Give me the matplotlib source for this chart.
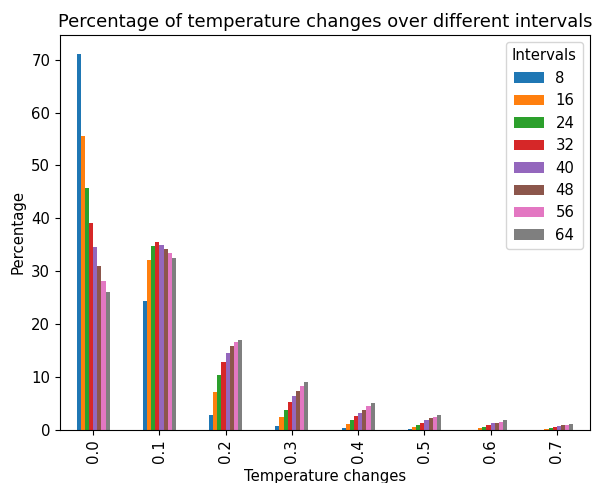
import numpy as np
import pandas as pd
import matplotlib
matplotlib.use('Agg')
import matplotlib.pyplot as plt

changes = ['0.0', '0.1', '0.2', '0.3', '0.4', '0.5', '0.6', '0.7']
intervals = [8, 16, 24, 32, 40, 48, 56, 64]

p8 = [71.1, 24.3, 2.8, 0.8, 0.4, 0.25, 0.05, 0.02]
p16 = [55.6, 32.1, 7.2, 2.45, 1.2, 0.6, 0.4, 0.2]
p24 = [45.7, 34.8, 10.4, 3.8, 1.8, 1.0, 0.6, 0.4]
p32 = [39.2, 35.5, 12.8, 5.3, 2.6, 1.4, 1.0, 0.6]
p40 = [34.5, 35.0, 14.6, 6.5, 3.3, 1.8, 1.25, 0.8]
p48 = [31.0, 34.2, 15.8, 7.3, 3.8, 2.2, 1.4, 1.0]
p56 = [28.2, 33.4, 16.6, 8.3, 4.5, 2.4, 1.6, 1.0]
p64 = [26.1, 32.5, 17.1, 9.1, 5.1, 2.9, 1.9, 1.2]

df = pd.DataFrame({8: p8, 16: p16, 24: p24, 32: p32,
                   40: p40, 48: p48, 56: p56, 64: p64}, index=changes)
df.columns.name = 'Intervals'

plt.rcParams['font.size'] = 10.7
fig = plt.figure(figsize=(5.92, 4.83), dpi=100)
ax = fig.add_axes([60/592, 1-430/483, 530/592, 395/483])
df.plot.bar(ax=ax)
ax.set_title('Percentage of temperature changes over different intervals')
ax.set_xlabel('Temperature changes')
ax.set_ylabel('Percentage')
ax.legend(title='Intervals', loc='upper right')
fig.savefig('out.png', dpi=100)
